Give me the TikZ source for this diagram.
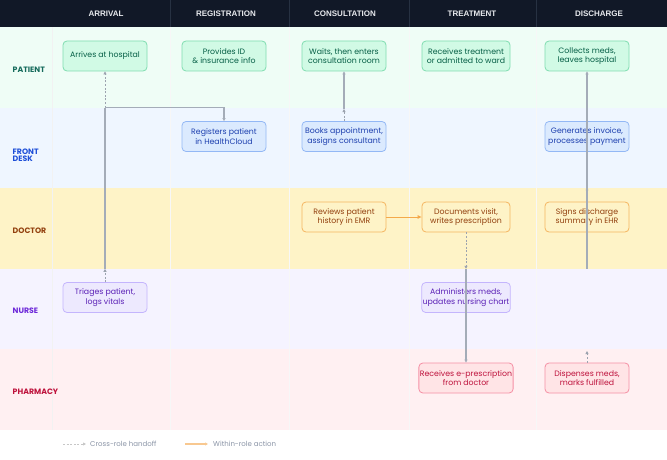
\documentclass[tikz,border=0pt]{standalone}
\usepackage{fontspec}
\setmainfont{Poppins}
\newfontfamily\hdfont{Liberation Sans}
\usetikzlibrary{arrows.meta}
\definecolor{hdbg}{HTML}{111827}
\definecolor{hdsep}{HTML}{273142}
\definecolor{hdtx}{HTML}{E8EAEE}
\definecolor{laneP}{HTML}{EFFDF6}
\definecolor{laneF}{HTML}{EFF6FF}
\definecolor{laneD}{HTML}{FEF3C7}
\definecolor{laneN}{HTML}{F5F3FF}
\definecolor{laneR}{HTML}{FFF0F2}
\definecolor{labP}{HTML}{166B5C}
\definecolor{labF}{HTML}{1D4ED8}
\definecolor{labD}{HTML}{92400E}
\definecolor{labN}{HTML}{6D28D9}
\definecolor{labR}{HTML}{BE123C}
\definecolor{fillP}{HTML}{D1FAE5}
\definecolor{drawP}{HTML}{7FDDB0}
\definecolor{textP}{HTML}{065F46}
\definecolor{fillF}{HTML}{DBEAFE}
\definecolor{drawF}{HTML}{93B8F5}
\definecolor{textF}{HTML}{1E40AF}
\definecolor{fillD}{HTML}{FEF3C7}
\definecolor{drawD}{HTML}{F5B560}
\definecolor{textD}{HTML}{92400E}
\definecolor{fillN}{HTML}{EDE9FE}
\definecolor{drawN}{HTML}{C4B5FD}
\definecolor{textN}{HTML}{5B21B6}
\definecolor{fillR}{HTML}{FFE4E6}
\definecolor{drawR}{HTML}{F590A5}
\definecolor{textR}{HTML}{BE123C}
\definecolor{solidgray}{HTML}{A4ACB8}
\definecolor{dashgray}{HTML}{9CA3AF}
\definecolor{orangeln}{HTML}{F4A94A}
\definecolor{legtx}{HTML}{8A94A6}
\definecolor{legor}{HTML}{F8C890}
\tikzset{
  box/.style={rounded corners=4pt, line width=0.8pt, minimum width=84pt, minimum height=30pt,
    inner sep=1pt, align=center, font=\fontsize{7.8}{9.6}\selectfont},
  boxP/.style={box, fill=fillP, draw=drawP, text=textP},
  boxF/.style={box, fill=fillF, draw=drawF, text=textF},
  boxD/.style={box, fill=fillD, draw=drawD, text=textD},
  boxN/.style={box, fill=fillN, draw=drawN, text=textN},
  boxR/.style={box, fill=fillR, draw=drawR, text=textR},
  wide/.style={minimum width=88pt},
  hdr/.style={text=hdtx, font=\hdfont\bfseries\fontsize{8}{9}\selectfont},
  lanelab/.style={anchor=west, align=left, inner sep=0pt, font=\bfseries\fontsize{7.8}{9}\selectfont},
  solidln/.style={draw=solidgray, line width=1.1pt},
  dashln/.style={draw=dashgray, line width=0.9pt, dash pattern=on 2pt off 1.6pt},
  tip/.style={-{Triangle[length=3pt,width=3pt]}},
  orangearrow/.style={draw=orangeln, line width=0.9pt, -{Triangle[length=4pt,width=3.5pt]}},
}
\begin{document}
\begin{tikzpicture}[x=1pt,y=-1pt]
\useasboundingbox (0,0) rectangle (667,460);
\fill[white] (0,0) rectangle (667,460);
% lanes
\fill[laneP] (0,27) rectangle (667,107.6);
\fill[laneF] (0,107.6) rectangle (667,188.2);
\fill[laneD] (0,188.2) rectangle (667,268.8);
\fill[laneN] (0,268.8) rectangle (667,349.4);
\fill[laneR] (0,349.4) rectangle (667,430);
% faint separators
\foreach \x in {170,289,409,536} \draw[black!3, line width=0.6pt] (\x,27) -- (\x,430);
\draw[black!5, line width=0.6pt] (52,27) -- (52,430);
% header
\fill[hdbg] (0,0) rectangle (667,27);
\foreach \x in {170,289,409,536} \draw[hdsep, line width=0.7pt] (\x,0) -- (\x,27);
\node[hdr] (h1) at (106,13.5) {ARRIVAL};
\node[hdr] (h2) at (226,13.5) {REGISTRATION};
\node[hdr] (h3) at (345,13.5) {CONSULTATION};
\node[hdr] (h4) at (472,13.5) {TREATMENT};
\node[hdr] (h5) at (599,13.5) {DISCHARGE};
% lane labels
\node[lanelab, text=labP] (lp) at (12.5,70) {PATIENT};
\node[lanelab, text=labF] (lf) at (12.5,155.5) {FRONT\\[-1.5pt]DESK};
\node[lanelab, text=labD] (ld) at (12.5,231) {DOCTOR};
\node[lanelab, text=labN] (ln) at (12.5,311) {NURSE};
\node[lanelab, text=labR] (lr) at (12.5,392) {PHARMACY};
% nodes
\node[boxP] (arr) at (105,56) {Arrives at hospital};
\node[boxP] (pid) at (224,56) {Provides ID\\\& insurance info};
\node[boxP] (wait) at (344,56) {Waits, then enters\\consultation room};
\node[boxP, wide] (rtreat) at (466,56) {Receives treatment\\or admitted to ward};
\node[boxP] (coll) at (587,56) {Collects meds,\\leaves hospital};
\node[boxF] (reg) at (224,136.5) {Registers patient\\in HealthCloud};
\node[boxF] (book) at (344,136.5) {Books appointment,\\assigns consultant};
\node[boxF] (inv) at (587,136.5) {Generates invoice,\\processes payment};
\node[boxD] (rev) at (344,217) {Reviews patient\\history in EMR};
\node[boxD, wide] (doc) at (466,217) {Documents visit,\\writes prescription};
\node[boxD] (sign) at (587,217) {Signs discharge\\summary in EHR};
\node[boxN] (tri) at (105,297.5) {Triages patient,\\logs vitals};
\node[boxN, wide] (adm) at (466,297.5) {Administers meds,\\updates nursing chart};
\node[boxR, wide] (erx) at (466,378) {Receives e-prescription\\from doctor};
\node[boxR] (disp) at (587,378) {Dispenses meds,\\marks fulfilled};
% junction coordinates
\coordinate (j1) at (105,107.6);
\coordinate (j2) at (105,268.8);
\coordinate (j3) at (344,109);
\coordinate (j4) at (466,268.8);
\coordinate (j5) at (587,190);
\coordinate (j6) at (587,268.8);
\coordinate (j7) at (587,351);
% connectors
\draw[dashln, tip] (j1) -- (arr.south);
\draw[solidln] (j1) -- (j2);
\draw[dashln, tip] (tri.north) -- (j2);
\draw[solidln, tip] (j1) -| (reg.north);
\draw[solidln, tip] (j3) -- (wait.south);
\draw[dashln, tip] (book.north) -- (j3);
\draw[orangearrow] (rev.east) -- (doc.west);
\draw[dashln, tip] (doc.south) -- (j4);
\draw[solidln, tip] (j4) -- (erx.north);
\draw[solidln, tip] (j5) -- (coll.south);
\draw[solidln] (j5) -- (j6);
\draw[solidgray, fill=solidgray] (j5) circle (1pt);
\draw[dashln, tip] (disp.north) -- (j7);
% legend
\coordinate (la1) at (63,444);
\coordinate (la2) at (86,444);
\coordinate (lb1) at (185,444);
\coordinate (lb2) at (208,444);
\draw[draw=black!22, line width=0.9pt, dash pattern=on 2pt off 1.6pt, -{Triangle[length=3pt,width=3pt]}] (la1) -- (la2);
\node[anchor=west, text=legtx, font=\fontsize{7}{8}\selectfont, inner sep=0pt] (lt1) at (90,444) {Cross-role handoff};
\draw[draw=legor, line width=1.3pt, -{Triangle[length=3pt,width=3pt]}] (lb1) -- (lb2);
\node[anchor=west, text=legtx, font=\fontsize{7}{8}\selectfont, inner sep=0pt] (lt2) at (213,444) {Within-role action};
\end{tikzpicture}
\end{document}
